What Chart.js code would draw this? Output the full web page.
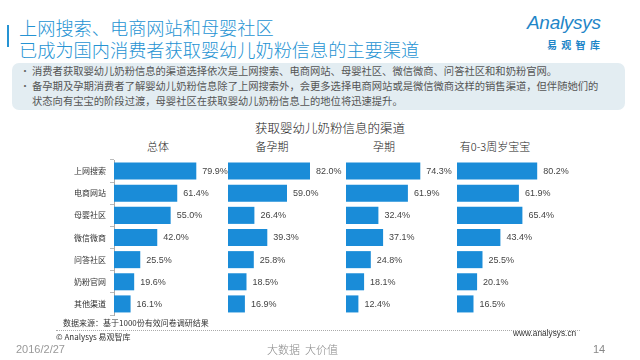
<!DOCTYPE html>
<html><head><meta charset="utf-8">
<script src="https://cdn.jsdelivr.net/npm/chart.js@4/dist/chart.umd.min.js"></script>
<style>
html,body{margin:0;padding:0;background:#fff;}
body{width:640px;height:360px;position:relative;overflow:hidden;font-family:"Noto Sans CJK SC","Noto Sans",sans-serif;}
.t{position:absolute;white-space:nowrap;}
canvas{position:absolute;}
</style></head><body>
<div class="t" style="left:7px;top:25px;width:2px;height:22px;background:#2593d3;"></div>
<div class="t" style="left:19px;top:17px;font-size:18.2px;line-height:20px;color:#2593d3;font-weight:300;">上网搜索、电商网站和母婴社区</div>
<div class="t" style="left:19px;top:39px;font-size:18.2px;line-height:20px;color:#2593d3;font-weight:300;">已成为国内消费者获取婴幼儿奶粉信息的主要渠道</div>
<div class="t" style="left:527px;top:13px;font-family:'Liberation Sans',sans-serif;font-style:italic;font-size:19px;line-height:20px;color:#1f86c8;letter-spacing:-0.3px;">Analysys</div>
<div class="t" style="left:547px;top:39px;font-size:10px;line-height:11px;font-weight:bold;color:#1f86c8;letter-spacing:4.3px;">易观智库</div>

<div class="t" style="left:12px;top:63px;width:613px;height:47px;background:#e3edf2;border-radius:7px;"></div>
<div class="t" style="left:20px;top:63px;font-size:10px;line-height:15px;color:#666;">•</div>
<div class="t" style="left:20px;top:78px;font-size:10px;line-height:15px;color:#666;">•</div>
<div class="t" style="left:32px;top:63px;font-size:10.3px;line-height:15px;color:#555;">消费者获取婴幼儿奶粉信息的渠道选择依次是上网搜索、电商网站、母婴社区、微信微商、问答社区和和奶粉官网。</div>
<div class="t" style="left:32px;top:78px;font-size:10.3px;line-height:15px;color:#555;">备孕期及孕期消费者了解婴幼儿奶粉信息除了上网搜索外，会更多选择电商网站或是微信微商这样的销售渠道，但伴随她们的</div>
<div class="t" style="left:32px;top:93px;font-size:10.3px;line-height:15px;color:#555;">状态向有宝宝的阶段过渡，母婴社区在获取婴幼儿奶粉信息上的地位将迅速提升。</div>

<div class="t" id="mainTitle" style="left:230px;width:200px;text-align:center;top:120px;font-size:12.5px;line-height:16px;color:#222;font-weight:300;"></div>
<div class="t" id="pt0" style="top:139px;width:120px;text-align:center;font-size:11px;line-height:15px;color:#222;font-weight:300;"></div>
<div class="t" id="pt1" style="top:139px;width:120px;text-align:center;font-size:11px;line-height:15px;color:#222;font-weight:300;"></div>
<div class="t" id="pt2" style="top:139px;width:120px;text-align:center;font-size:11px;line-height:15px;color:#222;font-weight:300;"></div>
<div class="t" id="pt3" style="top:139px;width:120px;text-align:center;font-size:11px;line-height:15px;color:#222;font-weight:300;"></div>

<canvas id="c0" width="197" height="179" style="left:60px;top:148px;"></canvas>
<canvas id="c1" width="140" height="179" style="left:228px;top:148px;"></canvas>
<canvas id="c2" width="140" height="179" style="left:346px;top:148px;"></canvas>
<canvas id="c3" width="140" height="179" style="left:457px;top:148px;"></canvas>

<div class="t" style="left:63px;top:317px;font-size:8px;line-height:11px;color:#333;">数据来源：基于1000份有效问卷调研结果</div>
<div class="t" style="left:56px;top:330px;width:524px;height:0;border-top:1px dotted #aaa;"></div>
<div class="t" style="left:56px;top:331px;font-size:8px;line-height:11px;color:#333;">© Analysys 易观智库</div>
<div class="t" style="left:513px;top:328px;font-family:'Liberation Sans',sans-serif;font-size:8.3px;line-height:11px;color:#333;">www.analysys.cn</div>
<div class="t" style="left:16px;top:342px;font-family:'Liberation Sans',sans-serif;font-size:11px;line-height:14px;color:#999;">2016/2/27</div>
<div class="t" style="left:267px;top:342px;font-size:11px;line-height:14px;color:#888;font-weight:300;">大数据</div>
<div class="t" style="left:305px;top:342px;font-size:11px;line-height:14px;color:#888;font-weight:300;">大价值</div>
<div class="t" style="left:593px;top:342px;font-family:'Liberation Sans',sans-serif;font-size:11px;line-height:14px;color:#888;">14</div>

<script>
const chartTitle = "获取婴幼儿奶粉信息的渠道";
const categories = ["上网搜索","电商网站","母婴社区","微信微商","问答社区","奶粉官网","其他渠道"];
const groups = ["总体","备孕期","孕期","有0-3周岁宝宝"];
const overall = [79.9,61.4,55.0,42.0,25.5,19.6,16.1];
const preparing = [82.0,59.0,26.4,39.3,25.8,18.5,16.9];
const pregnant = [74.3,61.9,32.4,37.1,24.8,18.1,12.4];
const withBaby = [80.2,61.9,65.4,43.4,25.5,20.1,16.5];
const seriesList = [overall, preparing, pregnant, withBaby];

const FONT = '"Noto Sans CJK SC","Noto Sans",sans-serif';
document.getElementById('mainTitle').textContent = chartTitle;
const titleCenters = [158, 272, 384, 495];
groups.forEach((g,i)=>{
  const el = document.getElementById('pt'+i);
  el.textContent = g;
  el.style.left = (titleCenters[i]-60)+'px';
});

const valueLabels = {
  id:'valueLabels',
  afterDatasetsDraw(chart){
    const ctx = chart.ctx;
    const meta = chart.getDatasetMeta(0);
    const data = chart.data.datasets[0].data;
    ctx.save();
    ctx.font = '9px "Liberation Sans", sans-serif';
    ctx.fillStyle = '#444';
    ctx.textBaseline = 'middle';
    ctx.textAlign = 'left';
    meta.data.forEach((bar,i)=>{
      ctx.fillText(data[i].toFixed(1)+'%', bar.x+6, bar.y+0.5);
    });
    ctx.restore();
  }
};

seriesList.forEach((vals,i)=>{
  const showAxis = i===0;
  const yScale = showAxis ? {
           display:true,
           grid:{display:true, drawOnChartArea:false, tickLength:4, color:'#bbb'},
           border:{display:true, color:'#aaa'},
           ticks:{font:{size:8, family:FONT}, color:'#333', padding:4},
           afterFit(s){ s.width = 54; }
        } : {display:false};
  new Chart(document.getElementById('c'+i), {
    type:'bar',
    data:{labels:categories, datasets:[{data:vals, backgroundColor:'#1a8cd8', barPercentage:0.77, categoryPercentage:1}]},
    options:{
      indexAxis:'y', responsive:false, animation:false,
      layout:{padding:{left:0,right:40,top:12,bottom:12}},
      plugins:{legend:{display:false}, tooltip:{enabled:false}},
      scales:{
        x:{display:false, min:0, max:100},
        y:yScale
      }
    },
    plugins:[valueLabels]
  });
});
</script>
</body></html>
